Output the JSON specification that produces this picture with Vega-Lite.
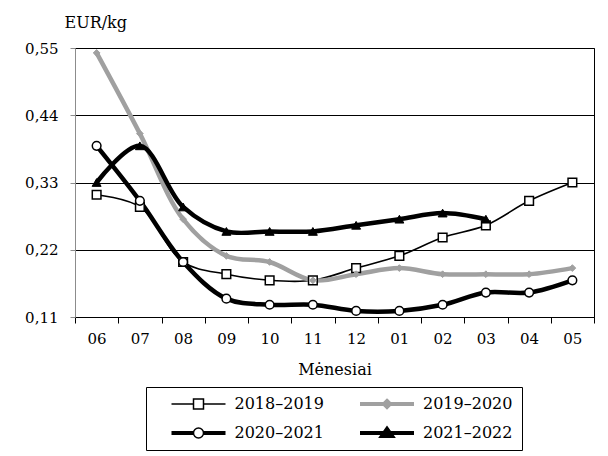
{
  "$schema": "https://vega.github.io/schema/vega-lite/v6.json",
  "width": 519,
  "height": 269,
  "autosize": {"type": "none"},
  "padding": {"left": 75, "top": 48, "right": 14, "bottom": 139},
  "background": "white",
  "config": {
    "font": "DejaVu Serif",
    "view": {"stroke": "black", "strokeWidth": 1},
    "axis": {
      "labelFont": "DejaVu Serif",
      "titleFont": "DejaVu Serif",
      "labelColor": "black",
      "titleColor": "black",
      "labelFontSize": 15,
      "titleFontSize": 16,
      "titleFontWeight": "normal"
    }
  },
  "data": {
    "values": [
      {"s": "2018–2019", "m": "06", "v": 0.31},
      {"s": "2018–2019", "m": "07", "v": 0.29},
      {"s": "2018–2019", "m": "08", "v": 0.20},
      {"s": "2018–2019", "m": "09", "v": 0.18},
      {"s": "2018–2019", "m": "10", "v": 0.17},
      {"s": "2018–2019", "m": "11", "v": 0.17},
      {"s": "2018–2019", "m": "12", "v": 0.19},
      {"s": "2018–2019", "m": "01", "v": 0.21},
      {"s": "2018–2019", "m": "02", "v": 0.24},
      {"s": "2018–2019", "m": "03", "v": 0.26},
      {"s": "2018–2019", "m": "04", "v": 0.30},
      {"s": "2018–2019", "m": "05", "v": 0.33},
      {"s": "2019–2020", "m": "06", "v": 0.542},
      {"s": "2019–2020", "m": "07", "v": 0.41},
      {"s": "2019–2020", "m": "08", "v": 0.27},
      {"s": "2019–2020", "m": "09", "v": 0.21},
      {"s": "2019–2020", "m": "10", "v": 0.20},
      {"s": "2019–2020", "m": "11", "v": 0.17},
      {"s": "2019–2020", "m": "12", "v": 0.18},
      {"s": "2019–2020", "m": "01", "v": 0.19},
      {"s": "2019–2020", "m": "02", "v": 0.18},
      {"s": "2019–2020", "m": "03", "v": 0.18},
      {"s": "2019–2020", "m": "04", "v": 0.18},
      {"s": "2019–2020", "m": "05", "v": 0.19},
      {"s": "2020–2021", "m": "06", "v": 0.39},
      {"s": "2020–2021", "m": "07", "v": 0.30},
      {"s": "2020–2021", "m": "08", "v": 0.20},
      {"s": "2020–2021", "m": "09", "v": 0.14},
      {"s": "2020–2021", "m": "10", "v": 0.13},
      {"s": "2020–2021", "m": "11", "v": 0.13},
      {"s": "2020–2021", "m": "12", "v": 0.12},
      {"s": "2020–2021", "m": "01", "v": 0.12},
      {"s": "2020–2021", "m": "02", "v": 0.13},
      {"s": "2020–2021", "m": "03", "v": 0.15},
      {"s": "2020–2021", "m": "04", "v": 0.15},
      {"s": "2020–2021", "m": "05", "v": 0.17},
      {"s": "2021–2022", "m": "06", "v": 0.33},
      {"s": "2021–2022", "m": "07", "v": 0.39},
      {"s": "2021–2022", "m": "08", "v": 0.29},
      {"s": "2021–2022", "m": "09", "v": 0.25},
      {"s": "2021–2022", "m": "10", "v": 0.25},
      {"s": "2021–2022", "m": "11", "v": 0.25},
      {"s": "2021–2022", "m": "12", "v": 0.26},
      {"s": "2021–2022", "m": "01", "v": 0.27},
      {"s": "2021–2022", "m": "02", "v": 0.28},
      {"s": "2021–2022", "m": "03", "v": 0.27}
    ]
  },
  "encoding": {
    "x": {
      "field": "m",
      "type": "ordinal",
      "sort": ["06", "07", "08", "09", "10", "11", "12", "01", "02", "03", "04", "05"],
      "bandPosition": 0.5,
      "scale": {"type": "band", "paddingInner": 0, "paddingOuter": 0},
      "axis": {
        "title": "Mėnesiai",
        "labelAngle": 0,
        "tickBand": "extent",
        "tickSize": 6,
        "tickColor": "black",
        "domainColor": "black",
        "labelPadding": 8,
        "grid": false,
        "titleY": 52,
        "titleBaseline": "middle"
      }
    },
    "y": {
      "field": "v",
      "type": "quantitative",
      "scale": {"domain": [0.11, 0.55], "zero": false, "nice": false},
      "axis": {
        "values": [0.11, 0.22, 0.33, 0.44, 0.55],
        "labelExpr": "replace(format(datum.value, '.2f'), '.', ',')",
        "grid": true,
        "gridColor": "black",
        "gridOpacity": 1,
        "gridWidth": 1,
        "domainColor": "#8c8c8c",
        "tickColor": "#8c8c8c",
        "tickSize": 5,
        "labelPadding": 12,
        "title": "EUR/kg",
        "titleAngle": 0,
        "titleAlign": "left",
        "titleBaseline": "alphabetic",
        "titleX": -11,
        "titleY": -21
      }
    }
  },
  "layer": [
    {
      "transform": [{"filter": "datum.s == '2018–2019'"}],
      "mark": {"type": "line", "interpolate": "catmull-rom", "strokeWidth": 1.6},
      "encoding": {
        "stroke": {
          "field": "s",
          "type": "nominal",
          "scale": {"domain": ["2018–2019", "2019–2020", "2020–2021", "2021–2022"], "range": ["black", "#a0a0a0", "black", "black"]}
        }
      }
    },
    {
      "transform": [{"filter": "datum.s != '2018–2019'"}],
      "mark": {"type": "line", "interpolate": "catmull-rom", "strokeWidth": 4.5},
      "encoding": {
        "stroke": {
          "field": "s",
          "type": "nominal",
          "scale": {"domain": ["2018–2019", "2019–2020", "2020–2021", "2021–2022"], "range": ["black", "#a0a0a0", "black", "black"]}
        }
      }
    },
    {
      "transform": [{"filter": "datum.s == '2018–2019'"}],
      "mark": {"type": "point", "shape": "square", "filled": true, "fill": "white", "stroke": "black", "strokeWidth": 1.5, "opacity": 1, "size": 75}
    },
    {
      "transform": [{"filter": "datum.s == '2019–2020'"}],
      "mark": {"type": "point", "shape": "diamond", "filled": true, "fill": "#a0a0a0", "stroke": "#a0a0a0", "strokeWidth": 1, "opacity": 1, "size": 45}
    },
    {
      "transform": [{"filter": "datum.s == '2020–2021'"}],
      "mark": {"type": "point", "shape": "circle", "filled": true, "fill": "white", "stroke": "black", "strokeWidth": 1.5, "opacity": 1, "size": 75}
    },
    {
      "transform": [{"filter": "datum.s == '2021–2022'"}],
      "mark": {"type": "point", "shape": "triangle-up", "filled": true, "fill": "black", "stroke": "black", "strokeWidth": 1, "opacity": 1, "size": 80}
    },
    {
      "mark": {"type": "point", "filled": true, "opacity": 0},
      "encoding": {
        "stroke": {
          "field": "s",
          "type": "nominal",
          "scale": {"domain": ["2018–2019", "2019–2020", "2020–2021", "2021–2022"], "range": ["black", "#a0a0a0", "black", "black"]}
        },
        "fill": {
          "field": "s",
          "type": "nominal",
          "scale": {"domain": ["2018–2019", "2019–2020", "2020–2021", "2021–2022"], "range": ["white", "#a0a0a0", "white", "black"]}
        },
        "shape": {
          "field": "s",
          "type": "nominal",
          "scale": {
            "domain": ["2018–2019", "2019–2020", "2020–2021", "2021–2022"],
            "range": [
              "M-1,0H-0.185M0.185,0H1M-0.185,-0.185H0.185V0.185H-0.185Z",
              "M-1,0H1M0,-0.11L0.11,0L0,0.11L-0.11,0Z",
              "M-1,-0.046H-0.185M-1,0H-0.185M-1,0.046H-0.185M0.185,-0.046H1M0.185,0H1M0.185,0.046H1M-0.185,0A0.185,0.185 0 1,0 0.185,0A0.185,0.185 0 1,0 -0.185,0Z",
              "M-1,0H1M0,-0.15L0.185,0.11H-0.185Z"
            ]
          },
          "legend": {
            "orient": "none",
            "legendX": 71,
            "legendY": 339,
            "direction": "horizontal",
            "columns": 2,
            "title": null,
            "strokeColor": "black",
            "fillColor": "white",
            "padding": 9,
            "symbolSize": 2916,
            "clipHeight": 16,
            "symbolOffset": 35.5,
            "labelOffset": 28,
            "columnPadding": 19.5,
            "rowPadding": 13,
            "labelFont": "DejaVu Serif",
            "labelFontSize": 16,
            "labelColor": "black",
            "encoding": {
              "symbols": {
                "size": {"value": 2916},
                "fill": {"value": {"expr": "datum.value == '2019–2020' ? '#a0a0a0' : datum.value == '2021–2022' ? 'black' : 'white'"}},
                "stroke": {"value": {"expr": "datum.value == '2019–2020' ? '#a0a0a0' : 'black'"}},
                "strokeWidth": {"value": {"expr": "datum.value == '2019–2020' || datum.value == '2021–2022' ? 4 : 1.5"}},
                "opacity": {"value": 1}
              }
            }
          }
        }
      }
    }
  ]
}
